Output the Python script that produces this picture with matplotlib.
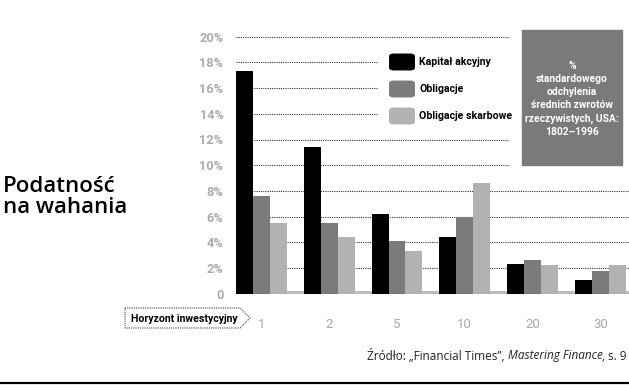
import matplotlib
matplotlib.use("Agg")
import matplotlib.pyplot as plt
from matplotlib.patches import Rectangle, FancyBboxPatch, Polygon
import numpy as np

# dane
horyzonty = ['1', '2', '5', '10', '20', '30']
serie = ['Kapitał akcyjny', 'Obligacje', 'Obligacje skarbowe']
kapital = [17.3, 11.4, 6.2, 4.4, 2.3, 1.1]
obligacje = [7.6, 5.5, 4.1, 6.0, 2.6, 1.8]
skarbowe = [5.5, 4.4, 3.3, 8.6, 2.2, 2.2]
reszta = [0.2, 0.2, 0.2, 0.2, 0.2, 0.2]
y_ticks = [0, 2, 4, 6, 8, 10, 12, 14, 16, 18, 20]
y_labels = ['0'] + [f'{v}%' for v in y_ticks[1:]]
kolory = ['#000000', '#7b7b7b', '#b2b2b2']

narrow = ['Roboto', 'DejaVu Sans']
main = ['Open Sans', 'DejaVu Sans']

W, H = 629, 390
fig = plt.figure(figsize=(W / 100, H / 100), dpi=100)


def fx(x):
    return x / W


def fy(y):
    return 1 - y / H


# osie w pikselach
zero_px, per = 293.7, 12.85
ymin, ymax = -0.15, 21
top_px = zero_px - ymax * per
bot_px = zero_px - ymin * per
ax = fig.add_axes([fx(236), fy(bot_px), (W - 236) / W, (bot_px - top_px) / H])
ax.set_ylim(ymin, ymax)
ax.set_xlim(-0.5, 22.69)

x = np.arange(len(horyzonty)) * 4
ax.bar(x, kapital, width=1.0, color=kolory[0], zorder=3)
ax.bar(x + 1, obligacje, width=1.0, color=kolory[1], zorder=3)
ax.bar(x + 2, skarbowe, width=1.0, color=kolory[2], zorder=3)
ax.bar(x + 3, reszta, width=1.0, color='#bdbdbd', zorder=3)

for v in y_ticks[1:]:
    ax.axhline(v, color='#333333', lw=0.8, ls=(0, (1, 1)), zorder=1)

for s in ax.spines.values():
    s.set_visible(False)
ax.set_yticks(y_ticks)
ax.set_yticklabels(y_labels, family=narrow, fontweight='bold', fontsize=9.2,
                   color='#ababab')
ax.set_xticks(x + 1)
ax.set_xticklabels(horyzonty, family=narrow, fontsize=9.5, color='#a8a8a8')
ax.tick_params(axis='both', length=0)
ax.tick_params(axis='y', pad=9)
ax.tick_params(axis='x', pad=16)

# białe tła pod legendą i ramką
fig.patches.append(Rectangle((fx(378), fy(132)), (515 - 378) / W, (132 - 45) / H,
                             transform=fig.transFigure, color='white', zorder=2))
fig.patches.append(Rectangle((fx(509), fy(172)), (W - 509) / W, (172 - 20) / H,
                             transform=fig.transFigure, color='white', zorder=2))
ax.set_zorder(1)
ax.patch.set_alpha(0)

# legenda
leg_y = [62, 89, 116]
for nazwa, kol, yy in zip(serie, kolory, leg_y):
    fig.patches.append(FancyBboxPatch((fx(391), fy(yy + 7)), 22 / W, 14 / H,
                                      boxstyle='round,pad=0.002,rounding_size=0.006',
                                      transform=fig.transFigure, color=kol, zorder=5))
    fig.text(fx(419), fy(yy), nazwa, family=narrow, fontweight='bold', fontsize=7.6,
             va='center', ha='left', zorder=6)

# szara ramka
fig.patches.append(Rectangle((fx(522), fy(165)), 100 / W, 135 / H,
                             transform=fig.transFigure, color='#7a7a7a', zorder=5))
fig.text(fx(572), fy(99), '%\nstandardowego\nodchylenia\nśrednich zwrotów\nrzeczywistych, USA:\n1802–1996',
         family=narrow, fontweight='bold', fontsize=7.4,
         color='white', ha='center', va='center', linespacing=1.4, zorder=6)

# tytuł
fig.text(fx(3), fy(197), 'Podatność\nna wahania', family=main, fontweight='semibold',
         fontsize=16, ha='left', va='center', linespacing=1.05)

# horyzont inwestycyjny
pts = [(125, 308), (240, 308), (250, 318), (240, 328), (125, 328)]
fig.patches.append(Polygon([(fx(a), fy(b)) for a, b in pts], closed=True,
                           transform=fig.transFigure, fill=False, lw=0.8,
                           ls=(0, (1, 1)), edgecolor='#444444'))
fig.text(fx(184), fy(318.5), 'Horyzont inwestycyjny', family=narrow,
         fontweight='bold', fontsize=7.6, ha='center', va='center')

# źródło
fig.canvas.draw()
r = fig.canvas.get_renderer()
czesci = [('Źródło: „Financial Times”, ', 'normal'), ('Mastering Finance', 'italic'), (', s. 9', 'normal')]
teksty = []
for t, st in czesci:
    teksty.append(fig.text(0, fy(356), t, family=main, style=st, fontsize=8.5,
                           color='#222222', ha='left', va='center'))
szer = [tt.get_window_extent(r).width for tt in teksty]
xx = 627 - sum(szer)
for tt, w in zip(teksty, szer):
    tt.set_x(fx(xx))
    xx += w

fig.add_artist(plt.Line2D([0, 1], [fy(383), fy(383)], color='black', lw=1.6,
                          transform=fig.transFigure))

fig.savefig('out.png', dpi=100)
